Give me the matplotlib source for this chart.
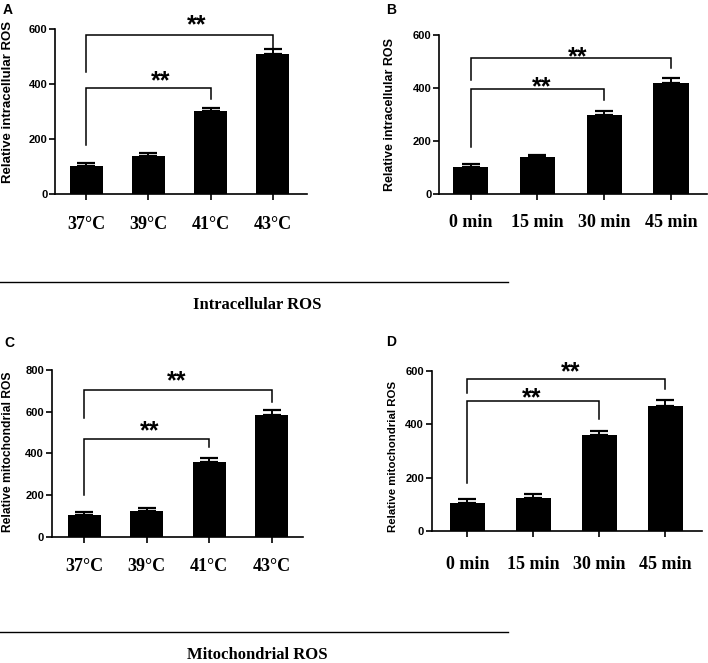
import numpy as np
import matplotlib
matplotlib.use('Agg')
import matplotlib.pyplot as plt
from matplotlib.lines import Line2D

# data
temps = ['37°C', '39°C', '41°C', '43°C']
times = ['0 min', '15 min', '30 min', '45 min']

intra_temp = [103, 138, 302, 509]
intra_temp_err = [9, 10, 12, 18]
intra_time = [104, 139, 300, 420]
intra_time_err = [10, 10, 14, 17]
mito_temp = [104, 123, 360, 584]
mito_temp_err = [13, 13, 16, 23]
mito_time = [104, 125, 360, 469]
mito_time_err = [15, 13, 15, 21]

# brackets: (x1, x2, y, left leg bottom, right leg bottom, star x, star y)
br_A = [(0, 2, 384, 178, 345, 1.19, 436), (0, 3, 578, 442, 530, 1.78, 640)]
br_B = [(0, 2, 396, 179, 355, 1.07, 432), (0, 3, 512, 430, 474, 1.60, 543)]
br_C = [(0, 2, 467, 200, 432, 1.05, 544), (0, 3, 704, 568, 648, 1.48, 784)]
br_D = [(0, 2, 489, 179, 420, 0.98, 526), (0, 3, 570, 516, 531, 1.57, 622)]

W, H = 708, 663
fig = plt.figure(figsize=(W / 100, H / 100), dpi=100)

sans = 'Liberation Sans'
serif = 'Liberation Serif'


def px_axes(l, r, t, b):
    return fig.add_axes([l / W, 1 - b / H, (r - l) / W, (b - t) / H])


def panel(ax, cats, vals, errs, ymax, yticks, xlim, ylabel, ylab_pos, brs, xpad, ylab_size):
    x = np.arange(len(cats))
    ax.bar(x, vals, width=0.53, color='black', zorder=2)
    ax.errorbar(x, vals, yerr=[np.zeros(len(errs)), errs], fmt='none', ecolor='black',
                elinewidth=1.4, capsize=6.8, capthick=1.6, zorder=1)
    ax.set_xlim(*xlim)
    ax.set_ylim(0, ymax)
    ax.set_yticks(yticks)
    ax.set_xticks(x)
    ax.set_xticklabels(cats, fontfamily=serif, fontweight='bold', fontsize=13)
    for lab in ax.get_yticklabels():
        lab.set_fontfamily(sans)
        lab.set_fontweight('bold')
        lab.set_fontsize(8)
    for s in ['top', 'right']:
        ax.spines[s].set_visible(False)
    for s in ['left', 'bottom']:
        ax.spines[s].set_linewidth(1.2)
    ax.tick_params(axis='x', length=4, width=1.2, pad=xpad)
    ax.tick_params(axis='y', length=4, width=1.2, pad=1.5)
    ax.set_ylabel(ylabel, fontfamily=sans, fontweight='bold', fontsize=ylab_size)
    ax.yaxis.set_label_coords(*ylab_pos)
    for x1, x2, y, lb, rb, sx, sy in brs:
        ax.plot([x1, x1, x2, x2], [lb, y, y, rb], color='black', lw=1.1,
                clip_on=False, solid_joinstyle='miter')
        ax.annotate('**', xy=(sx, sy), xytext=(0, -10.5), textcoords='offset points',
                    ha='center', va='baseline', fontsize=18, fontweight='bold',
                    fontfamily=sans, annotation_clip=False)


axA = px_axes(55, 307, 29, 194)
panel(axA, temps, intra_temp, intra_temp_err, 600, [0, 200, 400, 600], (-0.5, 3.55),
      'Relative intracellular ROS', (-0.163, 0.56), br_A, 12, 9.5)

axB = px_axes(439, 707, 35, 194.3)
panel(axB, times, intra_time, intra_time_err, 600, [0, 200, 400, 600], (-0.475, 3.54),
      'Relative intracellular ROS', (-0.159, 0.504), br_B, 10, 9)

axC = px_axes(51.7, 303, 370, 536.7)
panel(axC, temps, mito_temp, mito_temp_err, 800, [0, 200, 400, 600, 800], (-0.52, 3.5),
      'Relative mitochondrial ROS', (-0.15, 0.508), br_C, 11, 8.7)

axD = px_axes(431.7, 702, 371, 531)
panel(axD, times, mito_time, mito_time_err, 600, [0, 200, 400, 600], (-0.54, 3.56),
      'Relative mitochondrial ROS', (-0.125, 0.466), br_D, 14, 8.2)

# panel letters
for letter, px, py in [('A', 8, 10), ('B', 391, 10), ('C', 9.5, 343), ('D', 391, 342)]:
    fig.text(px / W, 1 - py / H, letter, ha='center', va='center', fontsize=10,
             fontweight='bold', fontfamily=sans)

# section separators
for ly, ty, title in [(282, 305, 'Intracellular ROS'), (631.7, 655, 'Mitochondrial ROS')]:
    fig.add_artist(Line2D([0, 508 / W], [1 - ly / H, 1 - ly / H], color='black', lw=1.0))
    fig.text(257 / W, 1 - ty / H, title, ha='center', va='center', fontsize=12,
             fontweight='bold', fontfamily=serif)

fig.savefig('out.png', dpi=100)
